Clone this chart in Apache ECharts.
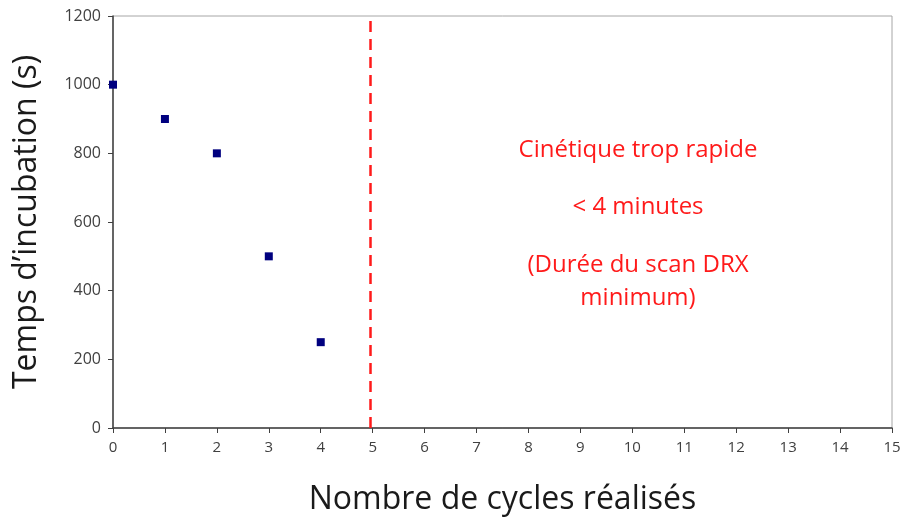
<!DOCTYPE html>
<html>
<head>
<meta charset="utf-8">
<script src="https://cdn.jsdelivr.net/npm/echarts@6/dist/echarts.min.js"></script>
<style>
  html, body { margin: 0; padding: 0; background: #fff; }
  #chart { width: 907px; height: 523px; }
</style>
</head>
<body>
<div id="chart"></div>
<script>
// Incubation time per completed cycle
const cycles = [0, 1, 2, 3, 4];
const incubationTimes = [1000, 900, 800, 500, 250];
// Position of the "too fast" limit on the cycle axis
const limitCycle = [4.95];
const xTicks = [0, 15, 1];
const yTicks = [0, 1200, 200];
const noteLines = ['Cinétique trop rapide', '< 4 minutes', '(Durée du scan DRX', 'minimum)'];

const font = '"Open Sans", "Noto Sans", sans-serif';
const chart = echarts.init(document.getElementById('chart'));

const points = cycles.map((c, i) => [c, incubationTimes[i]]);

chart.setOption({
  animation: false,
  backgroundColor: '#fff',
  grid: {
    left: 113, right: 15, top: 16, bottom: 95,
    show: true, borderColor: '#a6a6a6', borderWidth: 1
  },
  xAxis: {
    type: 'value', min: xTicks[0], max: xTicks[1], interval: xTicks[2],
    name: 'Nombre de cycles réalisés', nameLocation: 'middle', nameGap: 56,
    nameTextStyle: { fontFamily: font, fontSize: 32, color: '#1a1a1a' },
    axisLine: { show: true, lineStyle: { color: '#404040', width: 1.5 } },
    axisTick: { show: true, inside: false, length: 5, lineStyle: { color: '#404040' } },
    axisLabel: { fontFamily: font, fontSize: 15, color: '#404040', margin: 12 },
    splitLine: { show: false }
  },
  yAxis: {
    type: 'value', min: yTicks[0], max: yTicks[1], interval: yTicks[2],
    name: 'Temps d’incubation (s)', nameLocation: 'middle', nameGap: 70,
    nameTextStyle: { fontFamily: font, fontSize: 32, color: '#1a1a1a' },
    axisLine: { show: true, lineStyle: { color: '#404040', width: 1.5 } },
    axisTick: { show: true, inside: false, length: 5, lineStyle: { color: '#404040' } },
    axisLabel: { fontFamily: font, fontSize: 16, color: '#404040', margin: 12, formatter: v => String(v) },
    splitLine: { show: false }
  },
  series: [
    {
      type: 'scatter',
      data: points,
      symbol: 'rect',
      symbolSize: 8,
      itemStyle: { color: '#00007f', opacity: 1 },
      markLine: {
        silent: true,
        symbol: ['none', 'none'],
        label: { show: false },
        lineStyle: { color: '#ff1a1a', width: 2.5, type: [11, 7] },
        data: [{ xAxis: limitCycle[0] }]
      }
    }
  ],
  graphic: noteLines.map((t, i) => ({
    type: 'text',
    x: 638,
    y: [150, 207, 265, 298][i],
    style: {
      text: t,
      fill: '#ff1a1a',
      font: '24px ' + font,
      textAlign: 'center',
      textVerticalAlign: 'middle'
    }
  }))
});
</script>
</body>
</html>
